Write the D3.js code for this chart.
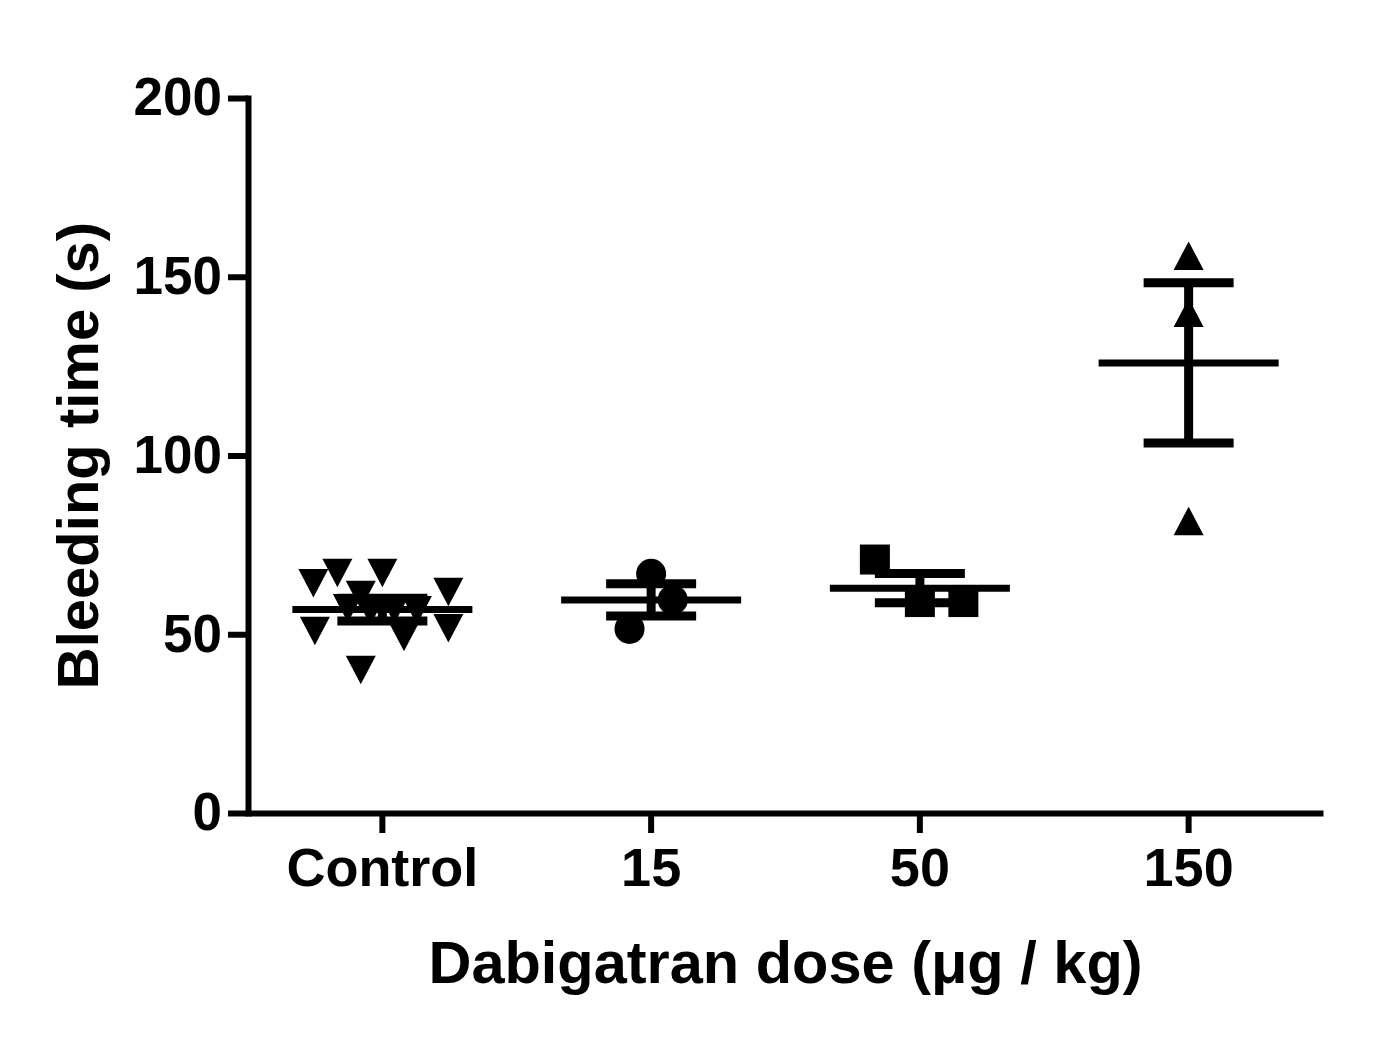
<!DOCTYPE html>
<html>
<head>
<meta charset="utf-8">
<script src="https://cdn.jsdelivr.net/npm/d3@7"></script>
<style>
  body { margin: 0; background: #fff; }
  text { font-family: "Liberation Sans", Arial, sans-serif; font-weight: bold; fill: #000; }
</style>
</head>
<body>
<div id="chart"></div>
<script>
// groups on the x axis
const categories = ["Control", "15", "50", "150"];
const symbols = ["triangleDown", "circle", "square", "triangleUp"];

// individual bleeding times (s)
const controlValues = [64.3, 67.1, 67.1, 61.0, 61.8, 50.9, 49.2, 51.7, 40.0, 57.3, 56.6, 57.0, 56.7];
const dose15Values = [66.9, 59.6, 51.5];
const dose50Values = [70.9, 59.0, 59.0];
const dose150Values = [155.9, 139.9, 81.7];

// horizontal scatter of each point, in symbol widths
const controlJitter = [-2.3, -1.5, 0, -0.72, 2.2, -2.25, 0.72, 2.2, -0.72, -1.15, -0.4, 0.4, 1.15];
const dose15Jitter = [0, 0.72, -0.72];
const dose50Jitter = [-1.5, 0, 1.45];
const dose150Jitter = [0, 0, 0];

// mean and SEM per group
const means = [56.9, 59.6, 62.9, 125.9];
const sems = [3.2, 4.5, 4.1, 22.4];

const yTicks = [0, 50, 100, 150, 200];

const width = 1392, height = 1056;
const margin = {top: 98, right: 69, bottom: 243, left: 248};
const symSize = 30;

const svg = d3.select("#chart").append("svg")
    .attr("width", width)
    .attr("height", height);

const x = d3.scaleBand()
    .domain(categories)
    .range([margin.left, width - margin.right]);

const y = d3.scaleLinear()
    .domain([0, 200])
    .range([height - margin.bottom, margin.top]);

const groups = [
  {values: controlValues, jitter: controlJitter},
  {values: dose15Values, jitter: dose15Jitter},
  {values: dose50Values, jitter: dose50Jitter},
  {values: dose150Values, jitter: dose150Jitter}
];

const points = [];
groups.forEach((g, i) => {
  g.values.forEach((v, j) => {
    points.push({cat: categories[i], sym: symbols[i], value: v, dx: g.jitter[j] * symSize});
  });
});

function symbolPath(name) {
  const s = symSize;
  if (name === "circle") return d3.symbol(d3.symbolCircle, Math.PI * (s / 2) * (s / 2))();
  if (name === "square") return d3.symbol(d3.symbolSquare, s * s)();
  const h = s * 0.95;
  if (name === "triangleDown")
    return `M${-s / 2},${-h / 2}L${s / 2},${-h / 2}L0,${h / 2}Z`;
  return `M${-s / 2},${h / 2}L${s / 2},${h / 2}L0,${-h / 2}Z`;
}

const cx = (c) => x(c) + x.bandwidth() / 2;

// axes
const yAxis = svg.append("g")
    .attr("transform", "translate(" + margin.left + ",0)")
    .call(d3.axisLeft(y).tickValues(yTicks).tickSize(20).tickSizeOuter(0).tickPadding(6));
yAxis.selectAll("line").attr("stroke", "#000").attr("stroke-width", 6);
yAxis.select(".domain").attr("stroke", "#000").attr("stroke-width", 6).attr("stroke-linecap", "square");
yAxis.selectAll("text").attr("font-size", 53).attr("font-family", null);

const xAxis = svg.append("g")
    .attr("transform", "translate(0," + y(0) + ")")
    .call(d3.axisBottom(x).tickSize(20).tickSizeOuter(0).tickPadding(15));
xAxis.selectAll("line").attr("stroke", "#000").attr("stroke-width", 6);
xAxis.select(".domain").attr("stroke", "#000").attr("stroke-width", 6);
xAxis.selectAll("text").attr("font-size", 54).attr("font-family", null);

// points
svg.append("g").selectAll("path")
    .data(points)
  .enter().append("path")
    .attr("d", (d) => symbolPath(d.sym))
    .attr("transform", (d) => "translate(" + (cx(d.cat) + d.dx) + "," + y(d.value) + ")")
    .attr("fill", "#000");

// mean and SEM bars
const stats = categories.map((c, i) => ({cat: c, mean: means[i], sem: sems[i]}));
const bars = svg.append("g").attr("stroke", "#000");

bars.selectAll(".mean")
    .data(stats)
  .enter().append("line")
    .attr("class", "mean")
    .attr("x1", (d) => cx(d.cat) - 90)
    .attr("x2", (d) => cx(d.cat) + 90)
    .attr("y1", (d) => y(d.mean))
    .attr("y2", (d) => y(d.mean))
    .attr("stroke-width", 7);

bars.selectAll(".whisker")
    .data(stats)
  .enter().append("line")
    .attr("class", "whisker")
    .attr("x1", (d) => cx(d.cat))
    .attr("x2", (d) => cx(d.cat))
    .attr("y1", (d) => y(d.mean + d.sem))
    .attr("y2", (d) => y(d.mean - d.sem))
    .attr("stroke-width", 9);

bars.selectAll(".cap")
    .data(stats.flatMap((d) => [{cat: d.cat, v: d.mean + d.sem}, {cat: d.cat, v: d.mean - d.sem}]))
  .enter().append("line")
    .attr("class", "cap")
    .attr("x1", (d) => cx(d.cat) - 45)
    .attr("x2", (d) => cx(d.cat) + 45)
    .attr("y1", (d) => y(d.v))
    .attr("y2", (d) => y(d.v))
    .attr("stroke-width", 9);

// axis titles
svg.append("text")
    .attr("x", (margin.left + width - margin.right) / 2)
    .attr("y", 983)
    .attr("text-anchor", "middle")
    .attr("font-size", 59.5)
    .text("Dabigatran dose (\u03bcg / kg)");

svg.append("text")
    .attr("transform", "translate(98," + (margin.top + y(0)) / 2 + ") rotate(-90)")
    .attr("text-anchor", "middle")
    .attr("font-size", 58)
    .text("Bleeding time (s)");
</script>
</body>
</html>
